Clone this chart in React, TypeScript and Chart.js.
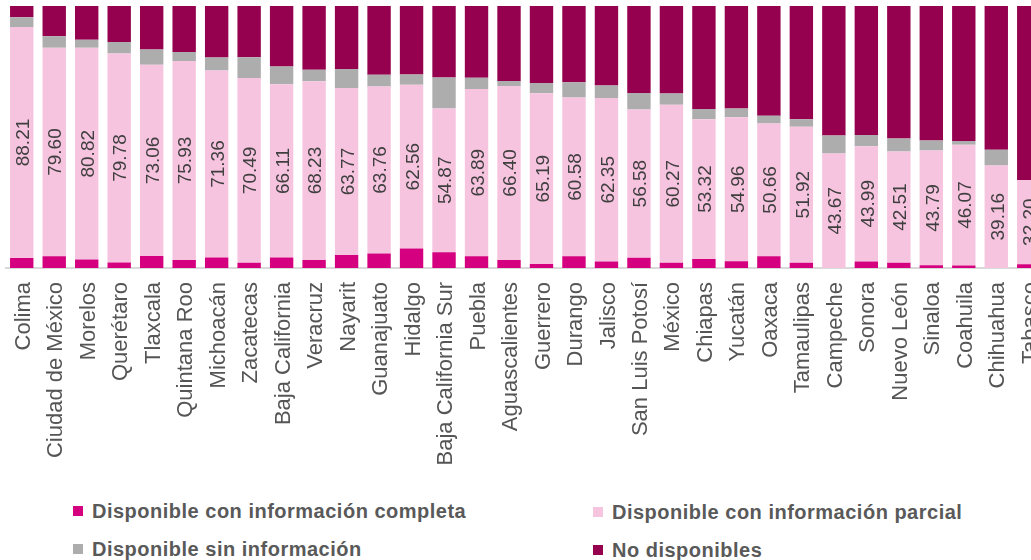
import React, { useEffect, useRef } from "react";
import { Chart, registerables } from "chart.js";

Chart.register(...registerables);

const categories = [
  "Colima", "Ciudad de México", "Morelos", "Querétaro", "Tlaxcala", "Quintana Roo",
  "Michoacán", "Zacatecas", "Baja California", "Veracruz", "Nayarit", "Guanajuato",
  "Hidalgo", "Baja California Sur", "Puebla", "Aguascalientes", "Guerrero", "Durango",
  "Jalisco", "San Luis Potosí", "México", "Chiapas", "Yucatán", "Oaxaca", "Tamaulipas",
  "Campeche", "Sonora", "Nuevo León", "Sinaloa", "Coahuila", "Chihuahua", "Tabasco",
];

const completa = [
  3.8, 4.45, 3.2, 2.1, 4.54, 3.07, 3.99, 2.01, 3.99, 3.07, 4.93, 5.54, 7.4, 6.03, 4.46, 3.1,
  1.51, 4.45, 2.5, 3.92, 2.03, 3.48, 2.54, 4.49, 2.03, 0.0, 2.5, 1.99, 1.01, 1.0, 0.0, 1.4,
];

const parcial = [
  88.21, 79.6, 80.82, 79.78, 73.06, 75.93, 71.36, 70.49, 66.11, 68.23, 63.77, 63.76, 62.56,
  54.87, 63.89, 66.4, 65.19, 60.58, 62.35, 56.58, 60.27, 53.32, 54.96, 50.66, 51.92, 43.67,
  43.99, 42.51, 43.79, 46.07, 39.16, 32.2,
];

const sinInfo = [
  3.65, 4.45, 3.1, 4.4, 5.8, 3.4, 4.95, 7.9, 6.8, 4.4, 7.3, 4.5, 3.94, 11.8, 4.25, 1.9,
  3.9, 5.85, 4.85, 6.3, 4.3, 3.9, 3.4, 2.95, 2.85, 6.93, 4.3, 4.95, 3.9, 1.4, 5.94, 0.0,
];

const noDisponibles = [
  4.34, 11.5, 12.88, 13.72, 16.6, 17.6, 19.7, 19.6, 23.1, 24.3, 24.0, 26.2, 26.1, 27.3, 27.4,
  28.6, 29.4, 29.12, 30.3, 33.2, 33.4, 39.3, 39.1, 41.9, 43.2, 49.4, 49.21, 50.55, 51.3,
  51.53, 54.9, 66.4,
];

const seriesNames = [
  "Disponible con información completa",
  "Disponible con información parcial",
  "Disponible sin información",
  "No disponibles",
];

const COLORS = ["#D5007F", "#F7C4E0", "#ADADAD", "#95004F"];
const FONT = "'Liberation Sans', Arial, Helvetica, sans-serif";

const labelPlugin = {
  id: "parcialLabels",
  afterDatasetsDraw(chart: any) {
    const meta = chart.getDatasetMeta(1);
    const ctx = chart.ctx;
    ctx.save();
    ctx.font = `19px ${FONT}`;
    ctx.fillStyle = "#3F3F3F";
    ctx.textAlign = "center";
    ctx.textBaseline = "middle";
    meta.data.forEach((el: any, i: number) => {
      const v = parcial[i];
      const cy = (el.y + el.base) / 2;
      ctx.save();
      ctx.translate(el.x, cy);
      ctx.rotate(-Math.PI / 2);
      ctx.fillText(v.toFixed(2), 0, 2);
      ctx.restore();
    });
    ctx.restore();
  },
};

export default function App() {
  const ref = useRef<HTMLCanvasElement>(null);

  useEffect(() => {
    if (!ref.current) return;
    const seriesData = [completa, parcial, sinInfo, noDisponibles];
    const chart = new Chart(ref.current, {
      type: "bar",
      data: {
        labels: categories,
        datasets: seriesData.map((d, i) => ({
          label: seriesNames[i],
          data: d,
          backgroundColor: COLORS[i],
          borderWidth: 0,
          barPercentage: 0.72,
          categoryPercentage: 1,
        })),
      },
      options: {
        responsive: false,
        animation: false,
        layout: { padding: { left: 5.5, right: 0, top: 6, bottom: 0 } },
        plugins: {
          legend: { display: false },
          tooltip: { enabled: false },
        },
        scales: {
          x: {
            stacked: true,
            grid: { display: false, drawTicks: false },
            border: { display: true, color: "#D9D9D9", width: 2 },
            ticks: {
              autoSkip: false,
              minRotation: 90,
              maxRotation: 90,
              padding: 14,
              labelOffset: 2,
              color: "#555555",
              font: { family: FONT, size: 22 },
            },
            afterFit: (scale: any) => {
              scale.height = 222;
              scale.paddingLeft = 0;
              scale.paddingRight = 0;
            },
          },
          y: {
            stacked: true,
            display: false,
            min: 0,
            max: 100,
          },
        },
      },
      plugins: [labelPlugin],
    });
    return () => chart.destroy();
  }, []);

  const legendPos = [
    { left: 73, top: 511 },
    { left: 593, top: 512 },
    { left: 73, top: 549 },
    { left: 593, top: 550 },
  ];

  return (
    <div
      style={{
        position: "absolute",
        left: 0,
        top: 0,
        width: 1031,
        height: 560,
        overflow: "hidden",
        background: "#ffffff",
      }}
    >
      <canvas ref={ref} width={1045} height={490} style={{ display: "block" }} />
      {seriesNames.map((name, i) => (
        <div
          key={name}
          style={{
            position: "absolute",
            left: legendPos[i].left,
            top: legendPos[i].top - 12,
            height: 24,
            display: "flex",
            alignItems: "center",
            whiteSpace: "nowrap",
          }}
        >
          <span
            style={{
              display: "inline-block",
              width: 10,
              height: 10,
              background: COLORS[i],
              marginRight: 9,
            }}
          />
          <span
            style={{
              fontFamily: FONT,
              fontWeight: "bold",
              fontSize: 20,
              letterSpacing: 0.5,
              color: "#595959",
              lineHeight: "24px",
            }}
          >
            {name}
          </span>
        </div>
      ))}
    </div>
  );
}
